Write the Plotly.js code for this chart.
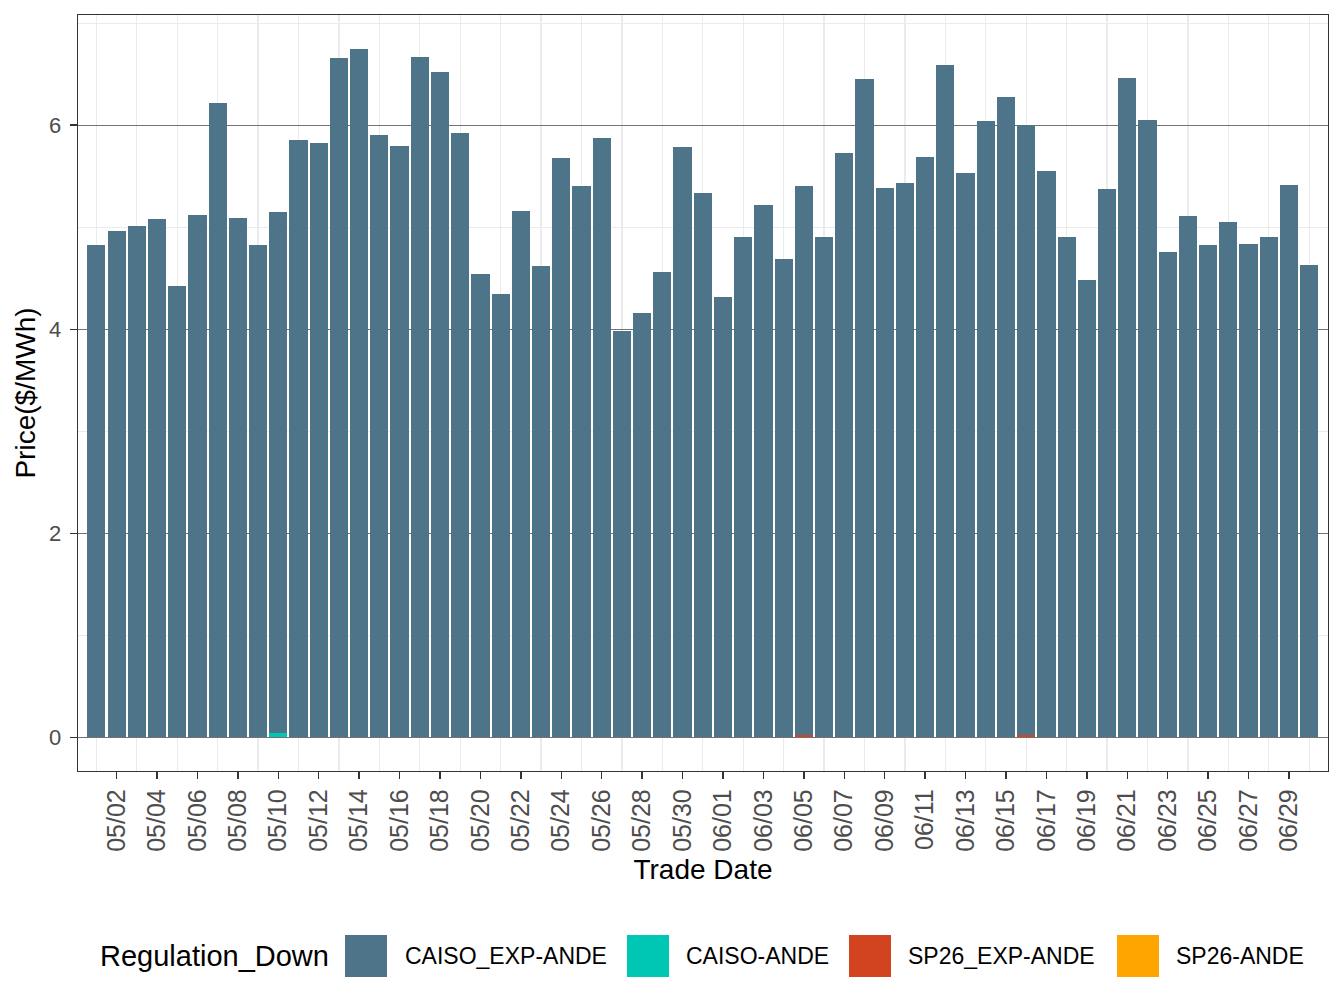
<!DOCTYPE html>
<html>
<head>
<meta charset="utf-8">
<script src="https://cdn.plot.ly/plotly-3.0.1.min.js"></script>
<style>
  html, body { margin: 0; padding: 0; background: #ffffff; }
  #chart { width: 1344px; height: 1008px; }
</style>
</head>
<body>
<div id="chart"></div>
<script>
// ---- Data ----
const tradeDates = [
  "2024-05-01","2024-05-02","2024-05-03","2024-05-04","2024-05-05","2024-05-06","2024-05-07","2024-05-08",
  "2024-05-09","2024-05-10","2024-05-11","2024-05-12","2024-05-13","2024-05-14","2024-05-15","2024-05-16",
  "2024-05-17","2024-05-18","2024-05-19","2024-05-20","2024-05-21","2024-05-22","2024-05-23","2024-05-24",
  "2024-05-25","2024-05-26","2024-05-27","2024-05-28","2024-05-29","2024-05-30","2024-05-31",
  "2024-06-01","2024-06-02","2024-06-03","2024-06-04","2024-06-05","2024-06-06","2024-06-07","2024-06-08",
  "2024-06-09","2024-06-10","2024-06-11","2024-06-12","2024-06-13","2024-06-14","2024-06-15","2024-06-16",
  "2024-06-17","2024-06-18","2024-06-19","2024-06-20","2024-06-21","2024-06-22","2024-06-23","2024-06-24",
  "2024-06-25","2024-06-26","2024-06-27","2024-06-28","2024-06-29","2024-06-30"
];
const caisoExpAnde = [
  4.83, 4.96, 5.01, 5.08, 4.42, 5.12, 6.22, 5.09,
  4.83, 5.11, 5.85, 5.83, 6.66, 6.75, 5.90, 5.80,
  6.67, 6.52, 5.92, 4.54, 4.35, 5.16, 4.62, 5.68,
  5.40, 5.87, 3.98, 4.16, 4.56, 5.79, 5.34,
  4.32, 4.90, 5.22, 4.69, 5.38, 4.90, 5.73, 6.45,
  5.38, 5.43, 5.69, 6.59, 5.53, 6.04, 6.28, 5.98,
  5.55, 4.90, 4.48, 5.37, 6.46, 6.05, 4.76, 5.11,
  4.83, 5.05, 4.84, 4.90, 5.41, 4.63
];
const caisoAndeDates = ["2024-05-10"];
const caisoAnde = [0.04];
const sp26ExpAndeDates = ["2024-06-05", "2024-06-16"];
const sp26ExpAnde = [0.02, 0.02];
const sp26AndeDates = [];
const sp26Ande = [];

const seriesNames = ["CAISO_EXP-ANDE", "CAISO-ANDE", "SP26_EXP-ANDE", "SP26-ANDE"];
const legendTitle = "Regulation_Down";

// ---- Styles ----
const colors = {
  "CAISO_EXP-ANDE": "#4E7489",
  "CAISO-ANDE": "#00C7B4",
  "SP26_EXP-ANDE": "#D2441F",
  "SP26-ANDE": "#FFA500"
};

function barTrace(name, x, y) {
  return {
    type: "bar", name: name, x: x, y: y,
    marker: { color: colors[name], line: { width: 0 } },
    showlegend: false, hoverinfo: "x+y+name"
  };
}

// ggplot stacks the first level on top: Plotly stacks first trace at bottom
const traces = [
  barTrace("SP26-ANDE", sp26AndeDates, sp26Ande),
  barTrace("SP26_EXP-ANDE", sp26ExpAndeDates, sp26ExpAnde),
  barTrace("CAISO-ANDE", caisoAndeDates, caisoAnde),
  barTrace("CAISO_EXP-ANDE", tradeDates, caisoExpAnde)
];

const W = 1344, H = 1008;
const M = { l: 78, r: 16, t: 15, b: 237 };
const PW = W - M.l - M.r, PH = H - M.t - M.b;
const px2x = p => (p - M.l) / PW;
const px2y = p => (H - M.b - p) / PH;

// Manual legend (large ggplot-style keys)
const keyLeft = [345, 627, 849, 1117];
const labelLeft = [405, 686, 908, 1176];
const keyTop = 935, keyBottom = 977, keyMid = 956;

const shapes = [];
const annotations = [{
  xref: "paper", yref: "paper", x: px2x(98), y: px2y(keyMid),
  xanchor: "left", yanchor: "middle", showarrow: false,
  text: legendTitle, font: { family: "Liberation Sans, Arial, sans-serif", size: 29, color: "#000000" }
}];
seriesNames.forEach((n, i) => {
  shapes.push({
    type: "rect", xref: "paper", yref: "paper",
    x0: px2x(keyLeft[i]), x1: px2x(keyLeft[i] + 42),
    y0: px2y(keyBottom), y1: px2y(keyTop),
    fillcolor: colors[n], line: { width: 0 }, layer: "above"
  });
  annotations.push({
    xref: "paper", yref: "paper", x: px2x(labelLeft[i] - 2), y: px2y(keyMid),
    xanchor: "left", yanchor: "middle", showarrow: false,
    text: n, font: { family: "Liberation Sans, Arial, sans-serif", size: 23, color: "#000000" }
  });
});

const DAY = 86400000;
const layout = {
  width: W, height: H,
  margin: M,
  paper_bgcolor: "#ffffff", plot_bgcolor: "#ffffff",
  barmode: "stack", bargap: 0.1,
  showlegend: false,
  font: { family: "Liberation Sans, Arial, sans-serif", color: "#000000" },
  xaxis: {
    type: "date",
    range: ["2024-04-30 02:10", "2024-06-30 22:20"],
    tickmode: "linear", tick0: "2024-05-02", dtick: 2 * DAY,
    tickformat: "%m/%d", tickangle: -90,
    tickfont: { size: 25, color: "#4D4D4D" },
    ticks: "outside", ticklen: 7, tickwidth: 1.4, tickcolor: "#333333",
    ticklabelstandoff: 0,
    showgrid: false,
    minor: { showgrid: true, tickmode: "linear", dtick: 2 * DAY, tick0: "2024-05-01", gridcolor: "#EBEBEB", gridwidth: 1.3, ticks: "" },
    showline: true, mirror: true, linecolor: "#333333", linewidth: 1.3,
    zeroline: false, automargin: false,
    title: { text: "Trade Date", font: { size: 28, color: "#000000" }, standoff: 8 }
  },
  yaxis: {
    range: [-0.33, 7.08],
    tickmode: "linear", tick0: 0, dtick: 2,
    tickfont: { size: 22, color: "#4D4D4D" },
    ticks: "outside", ticklen: 7, tickwidth: 1.4, tickcolor: "#333333",
    ticklabelstandoff: 4,
    showgrid: true, gridcolor: "#747474", gridwidth: 1,
    minor: { showgrid: true, dtick: 1, gridcolor: "#EBEBEB", gridwidth: 1.1, ticks: "" },
    showline: true, mirror: true, linecolor: "#333333", linewidth: 1.3,
    zeroline: false, automargin: false,
    title: { text: "Price($/MWh)", font: { size: 28, color: "#000000" }, standoff: 5 }
  },
  shapes: shapes,
  annotations: annotations
};

Plotly.newPlot("chart", traces, layout, { displayModeBar: false, staticPlot: true });
</script>
</body>
</html>
